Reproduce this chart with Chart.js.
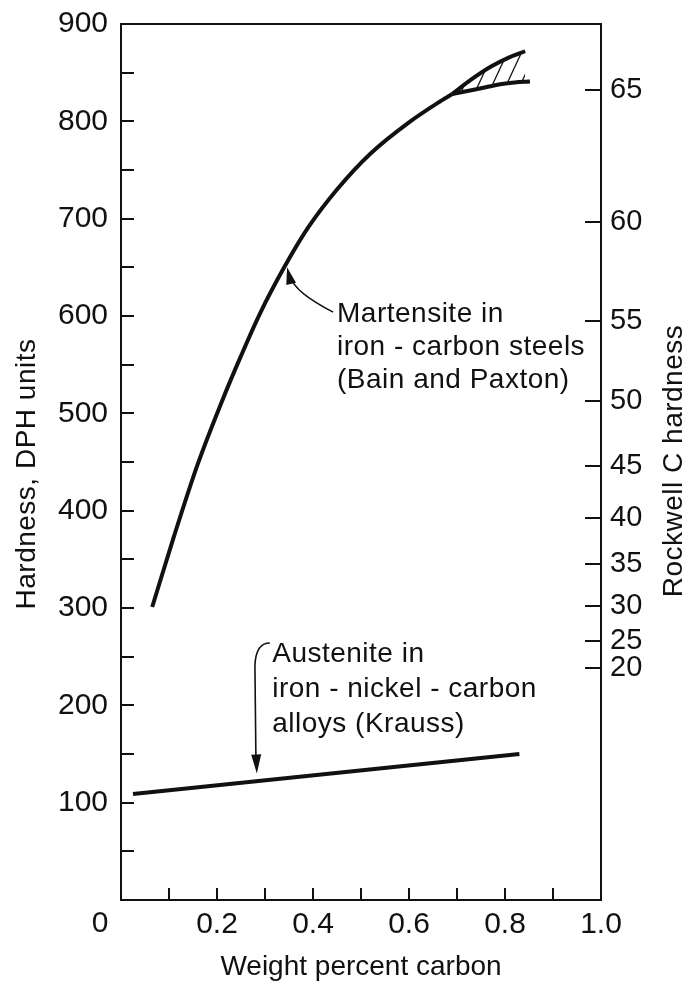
<!DOCTYPE html>
<html>
<head>
<meta charset="utf-8">
<script src="https://cdn.jsdelivr.net/npm/chart.js@4.4.1/dist/chart.umd.min.js"></script>
<style>
  body { margin: 0; background: #fff; }
  #wrap { width: 694px; height: 985px; }
</style>
</head>
<body>
<div id="wrap"><canvas id="chart"></canvas></div>
<script>
// Martensite in iron-carbon steels (Bain and Paxton), up to where the band splits
const martX = [0.065, 0.11, 0.16, 0.21, 0.25, 0.29, 0.34, 0.39, 0.45, 0.52, 0.60, 0.66, 0.69];
const martY = [301, 373, 448, 512, 559, 603, 650, 691, 730, 767, 799, 819, 828];

// the two edges of the hatched band at high carbon
const upperX = [0.69, 0.73, 0.77, 0.81, 0.842];
const upperY = [828, 843, 856, 866, 872];
const lowerX = [0.69, 0.73, 0.76, 0.79, 0.82, 0.852];
const lowerY = [828, 832, 835, 838, 840, 841];

// Austenite in iron-nickel-carbon alloys (Krauss)
const austX = [0.025, 0.83];
const austY = [109, 150];

// axis ticks
const xLabels = [0.2, 0.4, 0.6, 0.8, 1.0];
const rockwellLabels = [65, 60, 55, 50, 45, 40, 35, 30, 25, 20];
const rockwellDph = [832, 697, 595, 513, 446, 392, 345, 302, 266, 238];

const INK = "#111";
const FONT = "'Liberation Sans', Arial, sans-serif";

function toPoints(xs, ys) {
  return xs.map((x, i) => ({ x: x, y: ys[i] }));
}

// thin diagonal lines for the band between the two edges
function hatchPattern(ctx) {
  const tile = document.createElement("canvas");
  tile.width = 14;
  tile.height = 30;
  const t = tile.getContext("2d");
  t.strokeStyle = INK;
  t.lineWidth = 1.3;
  for (let k = -1; k <= 1; k++) {
    t.beginPath();
    t.moveTo(-14 + k * 14, 60);
    t.lineTo(28 + k * 14, -30);
    t.stroke();
  }
  return ctx.createPattern(tile, "repeat");
}

function arrowHead(ctx, fx, fy, tx, ty, len, half) {
  const a = Math.atan2(ty - fy, tx - fx);
  ctx.beginPath();
  ctx.moveTo(tx, ty);
  ctx.lineTo(tx - len * Math.cos(a) + half * Math.sin(a), ty - len * Math.sin(a) - half * Math.cos(a));
  ctx.lineTo(tx - len * Math.cos(a) - half * Math.sin(a), ty - len * Math.sin(a) + half * Math.cos(a));
  ctx.closePath();
  ctx.fill();
}

// no label overhang padding, so the plot box lands where the figure has it
function fixBox(w, h) {
  return (s) => {
    if (w !== null) s.width = w;
    if (h !== null) s.height = h;
    s.paddingTop = 0;
    s.paddingBottom = 0;
    s.paddingLeft = 0;
    s.paddingRight = 0;
  };
}

// labels, arrows and the axis titles that Chart.js can't place this way
const notes = {
  id: "notes",
  afterDraw(chart) {
    const { ctx, scales } = chart;
    const px = (v) => scales.x.getPixelForValue(v);
    const py = (v) => scales.y.getPixelForValue(v);
    ctx.save();
    ctx.fillStyle = INK;
    ctx.strokeStyle = INK;
    ctx.font = "28px " + FONT;
    ctx.letterSpacing = "0.5px";

    // martensite note
    ["Martensite in", "iron - carbon steels", "(Bain and Paxton)"].forEach((t, i) => {
      ctx.fillText(t, px(0.45), py(594) + i * 33);
    });
    ctx.lineWidth = 1.6;
    ctx.beginPath();
    ctx.moveTo(px(0.442), py(604));
    ctx.quadraticCurveTo(px(0.360), py(625), px(0.354), py(640));
    ctx.stroke();
    arrowHead(ctx, px(0.356), py(630), px(0.346), py(650), 17, 5);

    // austenite note
    ["Austenite in", "iron - nickel - carbon", "alloys (Krauss)"].forEach((t, i) => {
      ctx.fillText(t, px(0.315), py(245) + i * 35);
    });
    ctx.beginPath();
    ctx.moveTo(px(0.310), py(264));
    ctx.quadraticCurveTo(px(0.281), py(264), px(0.279), py(241));
    ctx.lineTo(px(0.281), py(149));
    ctx.stroke();
    arrowHead(ctx, px(0.281), py(160), px(0.283), py(130), 19, 5);

    // origin label sits at the corner
    ctx.letterSpacing = "0px";
    ctx.font = "30px " + FONT;
    ctx.textAlign = "center";
    ctx.textBaseline = "middle";
    ctx.fillText("0", px(0) - 21, chart.chartArea.bottom + 24);

    // y titles, both read bottom to top
    ctx.font = "28px " + FONT;
    ctx.letterSpacing = "0.5px";
    ctx.save();
    ctx.translate(27, 474);
    ctx.rotate(-Math.PI / 2);
    ctx.fillText("Hardness, DPH units", 0, 0);
    ctx.restore();
    ctx.save();
    ctx.translate(674, 461);
    ctx.rotate(-Math.PI / 2);
    ctx.fillText("Rockwell C hardness", 0, 0);
    ctx.restore();
    ctx.restore();
  }
};

const canvas = document.getElementById("chart");
const hatch = hatchPattern(canvas.getContext("2d"));

const lineStyle = {
  borderColor: INK,
  borderWidth: 4,
  pointRadius: 0,
  cubicInterpolationMode: "monotone",
  fill: false
};

new Chart(canvas, {
  type: "line",
  data: {
    datasets: [
      Object.assign({ data: toPoints(martX, martY) }, lineStyle),
      Object.assign({}, lineStyle, { data: toPoints(upperX, upperY), fill: "+1", backgroundColor: hatch }),
      Object.assign({ data: toPoints(lowerX, lowerY) }, lineStyle),
      Object.assign({ data: toPoints(austX, austY) }, lineStyle)
    ]
  },
  options: {
    responsive: true,
    maintainAspectRatio: false,
    animation: false,
    layout: { padding: { top: 24 } },
    plugins: {
      legend: { display: false },
      tooltip: { enabled: false }
    },
    scales: {
      x: {
        type: "linear",
        position: "bottom",
        min: 0,
        max: 1,
        afterFit: fixBox(null, 85),
        ticks: {
          stepSize: 0.1,
          autoSkip: false,
          maxRotation: 0,
          padding: 19,
          color: INK,
          font: { family: FONT, size: 30 },
          callback: (v) => {
            const r = Math.round(v * 10) / 10;
            return xLabels.includes(r) ? r.toFixed(1) : "";
          }
        },
        grid: { drawOnChartArea: false, tickLength: -12, color: INK, lineWidth: 2 },
        border: { color: INK, width: 2 },
        title: {
          display: true,
          text: "Weight percent carbon",
          color: INK,
          font: { family: FONT, size: 28 },
          padding: { top: 0, bottom: 1 }
        }
      },
      xTop: {
        type: "linear",
        position: "top",
        min: 0,
        max: 1,
        afterFit: fixBox(null, 0),
        ticks: { display: false },
        grid: { drawOnChartArea: false, drawTicks: false },
        border: { color: INK, width: 2 }
      },
      y: {
        type: "linear",
        position: "left",
        min: 0,
        max: 900,
        afterFit: fixBox(121, null),
        ticks: {
          stepSize: 50,
          autoSkip: false,
          padding: 26,
          color: INK,
          font: { family: FONT, size: 30 },
          callback: (v) => (v % 100 === 0 && v !== 0 ? v : "")
        },
        grid: { drawOnChartArea: false, tickLength: -13, color: INK, lineWidth: 2 },
        border: { color: INK, width: 2 }
      },
      yR: {
        type: "linear",
        position: "right",
        min: 0,
        max: 900,
        afterFit: fixBox(93, null),
        afterBuildTicks: (s) => { s.ticks = rockwellDph.map((v) => ({ value: v })); },
        ticks: {
          autoSkip: false,
          padding: 25,
          color: INK,
          font: { family: FONT, size: 29 },
          callback: (v, i) => rockwellLabels[i]
        },
        grid: { drawOnChartArea: false, tickLength: -16, color: INK, lineWidth: 2 },
        border: { color: INK, width: 2 }
      }
    }
  },
  plugins: [notes]
});
</script>
</body>
</html>
